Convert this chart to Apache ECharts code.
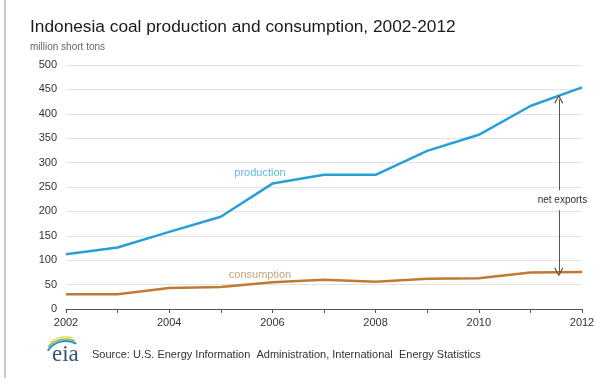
<!DOCTYPE html>
<html>
<head>
<meta charset="utf-8">
<script src="https://cdn.jsdelivr.net/npm/echarts@6/dist/echarts.min.js"></script>
<style>html,body{margin:0;padding:0;background:#fff;}#c{width:611px;height:385px;}</style>
</head>
<body>
<div id="c"></div>
<script>
const years = [2002, 2003, 2004, 2005, 2006, 2007, 2008, 2009, 2010, 2011, 2012];
const production = [112, 126, 158, 189, 257, 275, 275, 324, 357, 416, 454];
const consumption = [30, 30, 43, 45, 55, 60, 56, 62, 63, 75, 76];
const yTicks = [0, 50, 100, 150, 200, 250, 300, 350, 400, 450, 500];
const xLabelYears = [2002, 2004, 2006, 2008, 2010, 2012];
const titleText = 'Indonesia coal production and consumption, 2002-2012';
const unitText = 'million short tons';
const sourceText = 'Source: U.S. Energy Information  Administration, International  Energy Statistics';

const font = 'Liberation Sans, Arial, sans-serif';
const chevron = 'path://M0,9 L5,0 L10,9 L9,10 L5,2.6 L1,10 Z';
const deg = Math.PI / 180;
const chart = echarts.init(document.getElementById('c'), null, {renderer: 'canvas'});
chart.setOption({
  animation: false,
  backgroundColor: '#fff',
  grid: {left: 66, right: 29, top: 65, bottom: 76, containLabel: false},
  xAxis: {
    type: 'value', min: 2002, max: 2012, interval: 1,
    axisLine: {lineStyle: {color: '#555', width: 1}},
    axisTick: {show: true, length: 4, inside: false, lineStyle: {color: '#555'}},
    axisLabel: {
      color: '#333', fontFamily: font, fontSize: 11, margin: 8,
      formatter: v => xLabelYears.includes(v) ? String(v) : ''
    },
    splitLine: {show: false}
  },
  yAxis: {
    type: 'value', min: yTicks[0], max: yTicks[yTicks.length - 1], interval: 50,
    axisLine: {show: false}, axisTick: {show: false},
    axisLabel: {color: '#333', fontFamily: font, fontSize: 11, margin: 9},
    splitLine: {lineStyle: {color: '#e2e2e2', width: 1}}
  },
  graphic: [
    {type: 'line', shape: {x1: 5, y1: 0, x2: 5, y2: 378}, style: {stroke: '#c8c8c8', lineWidth: 2}},
    {type: 'text', left: 30, top: 19, style: {text: titleText, font: '17.3px ' + font, fill: '#1a1a1a'}},
    {type: 'text', left: 30, top: 42, style: {text: unitText, font: '10px ' + font, fill: '#666'}},
    {type: 'text', left: 92, top: 349, style: {text: sourceText, font: '11px ' + font, fill: '#333'}},
    {type: 'arc', shape: {cx: 66, cy: 363, r: 26, startAngle: 232 * deg, endAngle: 285 * deg}, style: {stroke: '#e6d24a', lineWidth: 1.2, fill: null}},
    {type: 'arc', shape: {cx: 66, cy: 363, r: 24, startAngle: 222 * deg, endAngle: 292 * deg}, style: {stroke: '#86c24c', lineWidth: 1.6, fill: null}},
    {type: 'arc', shape: {cx: 66, cy: 363, r: 22, startAngle: 214 * deg, endAngle: 298 * deg}, style: {stroke: '#2a8fc8', lineWidth: 2, fill: null}},
    {type: 'text', left: 52, top: 343, style: {text: 'eia', font: '23px Liberation Serif, serif', fill: '#3a5470'}}
  ],
  series: [
    {
      name: 'production', type: 'line', data: years.map((y, i) => [y, production[i]]),
      showSymbol: false, symbol: 'none',
      lineStyle: {color: '#2a9ed6', width: 2.5},
      markPoint: {
        symbol: 'circle', symbolSize: 0,
        label: {show: true, position: 'inside', color: '#5cbde0', fontFamily: font, fontSize: 11},
        data: [{coord: [2005.76, 279], value: 'production', label: {formatter: 'production'}}]
      },
      markLine: {
        silent: true,
        symbol: [chevron, chevron],
        symbolSize: [9, 9],
        lineStyle: {color: '#555', width: 1, type: 'solid'},
        label: {show: false},
        data: [[{coord: [2011.55, 430]}, {coord: [2011.55, 76]}]]
      }
    },
    {
      name: 'consumption', type: 'line', data: years.map((y, i) => [y, consumption[i]]),
      showSymbol: false, symbol: 'none',
      lineStyle: {color: '#c17a32', width: 2.5},
      markPoint: {
        symbol: 'circle', symbolSize: 0,
        label: {show: true, position: 'inside', color: '#c9a27a', fontFamily: font, fontSize: 11},
        data: [
          {coord: [2005.76, 70], value: 'consumption', label: {formatter: 'consumption'}},
          {coord: [2011.62, 223], value: 'net exports', label: {formatter: 'net exports', color: '#333', fontSize: 10, backgroundColor: '#fff', padding: [5, 2]}}
        ]
      }
    }
  ]
});
</script>
</body>
</html>
